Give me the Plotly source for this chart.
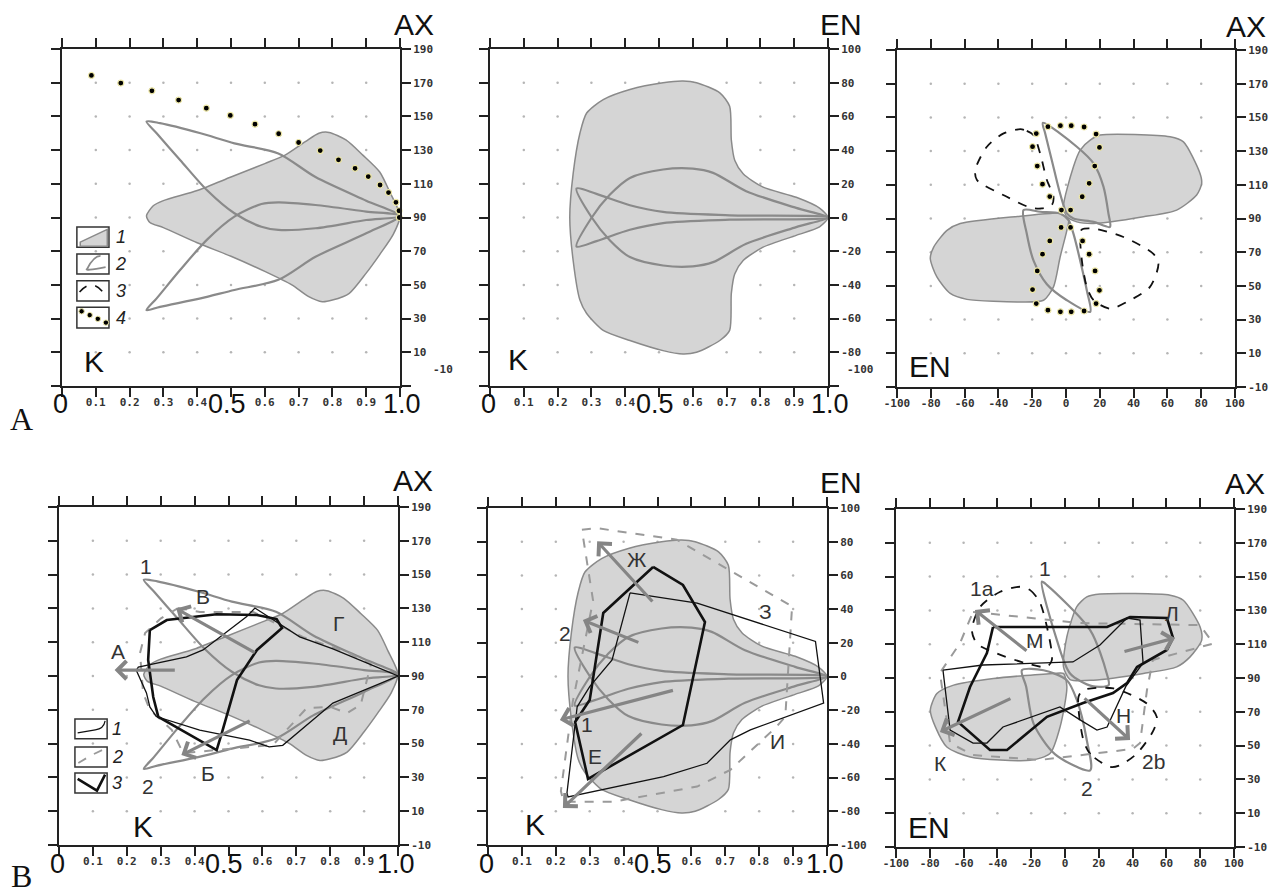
import numpy as np
import plotly.graph_objects as go

# ------------------------------------------------------------------ DATA
# tick values / labels
K_TICKS = [0.0, 0.1, 0.2, 0.3, 0.4, 0.5, 0.6, 0.7, 0.8, 0.9, 1.0]
K_TICKTEXT = ["", "0.1", "0.2", "0.3", "0.4", "", "0.6", "0.7", "0.8", "0.9", ""]
AX_TICKS = [-10, 10, 30, 50, 70, 90, 110, 130, 150, 170, 190]
EN_TICKS = [-100, -80, -60, -40, -20, 0, 20, 40, 60, 80, 100]

# ---- panel A1 / B1 : K vs AX
fill1_K = [0.25, 0.27, 0.30, 0.40, 0.50, 0.60, 0.66, 0.72, 0.76, 0.79, 0.84, 0.89, 0.94, 0.97, 1.00,
           0.98, 0.94, 0.90, 0.85, 0.80, 0.77, 0.73, 0.68, 0.60, 0.50, 0.40, 0.30, 0.26, 0.25]
fill1_AX = [91, 97, 100, 106, 114, 122, 127, 135, 140, 140.5, 136, 127, 117, 105, 91,
            80, 68, 57, 45, 41, 40, 43, 50, 58, 67, 75, 84, 87, 91]
loopU_K = [0.25, 0.29, 0.41, 0.51, 0.64, 0.75, 0.90, 1.00, 0.90, 0.75, 0.64, 0.59, 0.51, 0.43, 0.35, 0.28, 0.25]
loopU_AX = [147, 146, 140, 134, 128, 114, 100, 91, 88.5, 83.6, 82.6, 84.5, 92.5, 106, 124, 140, 147]
loopL_K = [0.25, 0.29, 0.41, 0.51, 0.64, 0.75, 0.90, 1.00, 0.90, 0.75, 0.64, 0.59, 0.51, 0.43, 0.35, 0.28, 0.25]
loopL_AX = [35, 37, 42, 47, 53, 66.7, 80.6, 91, 93.5, 97.4, 99, 98, 90.5, 77, 59, 42, 35]
dots1_K = [0.087, 0.174, 0.266, 0.345, 0.427, 0.498, 0.571, 0.641, 0.700, 0.764, 0.818, 0.867,
           0.906, 0.941, 0.966, 0.988, 0.997, 0.998]
dots1_AX = [174.3, 169.8, 165.2, 159.7, 154.9, 150.6, 145.4, 139.7, 134.5, 129.7, 124.2, 119.2,
            114.3, 109.3, 104.8, 99, 94, 90]

# ---- panel A2 / B2 : K vs EN
fill2_K = [0.236, 0.246, 0.266, 0.286, 0.335, 0.414, 0.512, 0.571, 0.611, 0.68, 0.709, 0.714, 0.724, 0.749,
           0.808, 0.906, 0.975, 1.0, 0.975, 0.906, 0.808, 0.749, 0.724, 0.714, 0.709, 0.68, 0.611, 0.571,
           0.512, 0.414, 0.335, 0.286, 0.266, 0.246, 0.236]
fill2_EN = [0, 26, 50, 62, 70, 76, 80, 81, 80, 74, 66, 46, 34, 26, 18, 12, 5.6, 0, -5.6, -10.6, -17.6,
            -25.5, -33.5, -45, -67, -73, -80, -81, -79, -73, -67, -57, -49, -25.5, 0]
loop2a_K = [0.256, 0.315, 0.414, 0.512, 0.709, 1.0, 0.906, 0.758, 0.66, 0.6, 0.512, 0.414, 0.355, 0.3, 0.256]
loop2a_EN = [17.2, 14, 7.3, 3.3, 1.3, 0, -5.7, -15.6, -26.5, -29, -28.5, -23.5, -13.6, 0.3, 17.2]
loop2b_K = [0.256, 0.315, 0.414, 0.512, 0.709, 1.0, 0.906, 0.758, 0.66, 0.6, 0.512, 0.414, 0.355, 0.3, 0.256]
loop2b_EN = [-17.2, -14, -7.3, -3.3, -1.3, 0, 5.7, 15.6, 26.5, 29, 28.5, 23.5, 13.6, -0.3, -17.2]

# ---- panel A3 : EN vs AX
fill3R_EN = [14.3, 20.2, 61.6, 69.5, 79.3, 80.3, 77.3, 65.5, 45.8, 16.3, 6.4, 0.5, -1.5, 4.4, 8.4, 14.3]
fill3R_AX = [136.5, 139.5, 138.5, 135.5, 116.7, 110.8, 103.9, 95, 91, 87, 88, 91, 97, 120.7, 130.6, 136.5]
fill3L_EN = [-9.4, -27, -62.6, -70.4, -78.3, -80.3, -76.4, -68.5, -58.6, -27, -13.3, -7.4, -3.5, 0.5, 1.5, -3.5, -9.4]
fill3L_AX = [93, 91.4, 87, 83, 73, 66.2, 55.3, 45.5, 42, 40.5, 41.5, 49.4, 67, 83, 89, 93, 93]
loop3U_EN = [-13.7, 6.4, 16.3, 22.2, 25.1, 26, 16.3, 4.4, 0.5, -3.5, -8.4, -12.3, -13.7]
loop3U_AX = [146.8, 132.6, 122.7, 108.8, 93, 85, 88, 90, 93, 104.8, 124.6, 140.5, 146.8]
loop3L_EN = [-25.1, -23.2, -19.2, -11.3, 0.5, 14.3, 12.3, 8.4, 4.4, 1.5, -3.5, -15.3, -25.1]
loop3L_AX = [95, 81, 65, 51, 41.5, 34.6, 47.4, 65, 81, 89, 93, 94, 95]
dash3U_EN = [-27, -23.2, -19.2, -15.3, -11.3, -7.4, -8.4, -14.3, -21.2, -35, -52.7, -53.7, -46.8, -36.9, -27]
dash3U_AX = [143, 142, 139.5, 128.6, 112.8, 102.9, 98, 96, 96.5, 102.9, 112.8, 118.7, 132.6, 140.5, 143]
dash3L_EN = [26.1, 16.3, 12.3, 9.4, 8.4, 9.4, 16.3, 34, 51.7, 54.7, 49.7, 36, 26.1]
dash3L_AX = [36.5, 41.5, 49.4, 65, 81, 83.5, 84, 79, 69, 63.3, 49.4, 40.5, 36.5]
dots3_EN = [-10.7, -3.3, 3.1, 10.7, 17.8, 19.8, 17.0, 13.7, 9.6, 2.7, -2.7, -9.6, -13.9, -17.0, -19.8, -17.6,
            -2.9, 2.7, 9.8, 13.7, 17.2, 19.8, 17.8, 10.7, 3.1, -3.3, -10.7, -17.6, -19.8, -17.0, -13.9, -9.6]
dots3_AX = [144.5, 145.1, 145.1, 144.3, 140.1, 132.2, 121.1, 110.9, 102.9, 95, 95, 103, 110.4, 121.1, 132.6, 140.4,
            84.7, 84.7, 76.7, 68.8, 58.9, 47.4, 39.5, 35.1, 34.6, 34.6, 35.6, 39.5, 47.8, 58.9, 68.8, 76.7]

# ---- panel B1 extra series
b1_thin_K = [1.0, 0.808, 0.71, 0.68, 0.578, 0.553, 0.475, 0.425, 0.376, 0.234, 0.228, 0.258, 0.268, 0.287,
             0.415, 0.562, 0.62, 0.66, 0.808, 1.0]
b1_thin_AX = [90, 106, 113.2, 117, 130.2, 125, 113.1, 105.4, 101.3, 95.3, 93.4, 80, 71.7, 66,
              58, 52, 48.1, 49, 74, 90]
b1_dash_K = [0.351, 0.416, 0.573, 0.64, 0.72, 0.85, 0.92, 0.89, 0.85, 0.80, 0.731, 0.631, 0.5, 0.366,
             0.333, 0.268, 0.248, 0.239, 0.254, 0.30, 0.351]
b1_dash_AX = [130.2, 127.9, 127.9, 121, 113, 104, 97, 73, 68, 71.7, 71.1, 49.2, 47, 44.4,
              58, 70, 80, 103.6, 115.4, 124, 130.2]
b1_thick_K = [0.268, 0.318, 0.465, 0.584, 0.642, 0.658, 0.584, 0.525, 0.48, 0.465, 0.293, 0.278, 0.263, 0.268]
b1_thick_AX = [117.2, 123.1, 126.5, 126.1, 123.7, 118.4, 105.4, 87.6, 56, 46.2, 65.8, 77.6, 99.5, 117.2]
b1_arrows = [(0.346, 93.5, 0.164, 93.5), (0.582, 103.3, 0.346, 129.9), (0.567, 63.9, 0.361, 43.2)]
b1_labels = [("1", 0.258, 154.5), ("2", 0.263, 24.5), ("А", 0.174, 104.3), ("В", 0.425, 136.8),
             ("Б", 0.44, 32.4), ("Г", 0.823, 121), ("Д", 0.828, 56)]

# ---- panel B2 extra series
b2_thin_K = [0.419, 0.617, 0.966, 0.99, 0.774, 0.715, 0.646, 0.518, 0.236, 0.233, 0.263, 0.30, 0.366, 0.419]
b2_thin_EN = [49.6, 43.6, 20.8, -15.8, -31.7, -37.6, -51.5, -59.4, -71.5, -69, -18, -6, 9.8, 49.6]
b2_dash_K = [0.277, 0.322, 0.557, 0.897, 0.877, 0.85, 0.715, 0.617, 0.371, 0.223, 0.215, 0.25, 0.31, 0.277]
b2_dash_EN = [87.1, 88, 81.2, 41.6, -23.8, -30, -55.4, -65.3, -74.3, -74.3, -68, -15, 45, 87.1]
b2_thick_K = [0.487, 0.575, 0.64, 0.575, 0.295, 0.257, 0.30, 0.34, 0.487]
b2_thick_EN = [65, 54.3, 32.3, -28.8, -60.8, -27, -14, 37.7, 65]
b2_arrows = [(0.489, 43.6, 0.322, 80.2), (0.448, 19.9, 0.28, 33.5), (0.55, -8, 0.212, -25.8),
             (0.457, -33, 0.221, -78)]
b2_labels = [("Ж", 0.44, 69.3), ("2", 0.228, 25.7), ("1", 0.292, -28.7), ("Е", 0.317, -47.5),
             ("З", 0.818, 38.6), ("И", 0.853, -38.6)]

# ---- panel B3 : EN vs AX
fillB3R_EN = [12.9, 20.8, 62.2, 70, 79.9, 80.9, 74, 66.1, 46.4, 16.8, 3, -0.9, 1.1, 7, 12.9]
fillB3R_AX = [138, 139.7, 139, 136, 120.3, 112.4, 102.5, 96.6, 92.7, 88.7, 89.1, 96.6, 114.4, 132.2, 138]
fillB3L_EN = [-6.8, -42.3, -65.9, -75.8, -79.7, -76.7, -69.9, -56.1, -20.6, -8.9, -2.9, 1.1, -0.9, -6.8]
fillB3L_AX = [92.7, 89.7, 85.8, 80.8, 71, 61.1, 49.2, 43.3, 41.3, 45.3, 61.1, 84.8, 92.7, 92.7]
b3_loop1_EN = [-13.7, -10.7, 14.9, 24.7, 25.8, 16, 3, -4.8, -13.7]
b3_loop1_AX = [147, 145, 118.3, 92.7, 85.8, 85.2, 92.7, 112.4, 147]
b3_loop2_EN = [-25.5, -23, -18.6, -6, 14.9, 12.9, 7, 1.1, -12.7, -25.5]
b3_loop2_AX = [94.6, 85, 63, 45, 35.4, 53.2, 77, 88.7, 94.6, 94.6]
b3_dash1a_EN = [-26.5, -20.6, -15, -10.7, -7.8, -10.7, -22.6, -40.3, -52.1, -55.1, -50.1, -38.3, -26.5]
b3_dash1a_AX = [144, 142, 135, 120.3, 100.6, 96.6, 98.6, 104.5, 110.4, 118.3, 132.2, 141, 144]
b3_dash2b_EN = [26.7, 15, 10.9, 8, 10.9, 28.7, 48.4, 54.3, 52.4, 42.5, 32.6, 26.7]
b3_dash2b_AX = [37.4, 45, 53.2, 78.9, 82.8, 83.8, 74.9, 67, 59.1, 45.3, 38.4, 37.4]
b3_thin_EN = [-72.2, -48.5, 4.7, 20.7, 36.7, 44.4, 46.2, 36, 24.9, 18.9, 8.9, -3, -36.7, -46.2, -54.4, -68, -72.2]
b3_thin_AX = [94.7, 97.7, 99.5, 109.5, 125.5, 124.3, 98.9, 85, 61, 59.2, 65.2, 72.9, 61, 51.5, 51.5, 59.2, 94.7]
b3_thick_EN = [-42.6, 24.9, 38.5, 60.3, 63.9, 60.3, 42.6, 36.7, 28.4, 10.7, -10.7, -34.3, -44.4, -63.3, -56.2,
               -46.2, -42.6]
b3_thick_AX = [120.2, 120.2, 126.1, 125.5, 113.7, 106.6, 96.5, 87, 81.1, 75.2, 67, 47.4, 47.4, 64, 84.7,
               104.8, 120.2]
b3_dash_EN = [-54.4, 8.9, 79.9, 87.8, 52, 48.5, 44.4, 40, -14.8, -54.4, -68, -74, -62.1, -54.4]
b3_dash_AX = [129.1, 122.5, 121.3, 110.4, 100.7, 82.9, 51.5, 48, 41.5, 44.4, 51.5, 93, 110.7, 129.1]
b3_arrows = [(-21.9, 105.4, -53.3, 130.2), (-31.4, 78.2, -74, 58.1), (34.3, 105.4, 65.1, 113.7),
             (10.7, 78.8, 38.5, 53.3)]
b3_labels = [("1", -11.7, 154.9), ("1a", -49.2, 143), ("2", 12.9, 24.5), ("2b", 52.3, 40.3),
             ("Л", 63.2, 128.2), ("М", -17.6, 112.4), ("К", -73.8, 39.4), ("Н", 34.6, 68)]

# ------------------------------------------------------------------ STYLE
W, H = 1280, 893
GRAY_FILL = "#d5d5d5"
GRAY_LINE = "#8a8a8a"
AXC = "#222222"
TICKFONT = dict(family="DejaVu Sans Mono", size=11, color="#333333", weight="bold")

# panel: (index, x px range, y px range, x kind, y kind, hide lowest y label)
PANELS = [
    (1, (62, 400), (49, 386), "K", "AX", True),
    (2, (490, 828), (49, 386), "K", "EN", True),
    (3, (897, 1235), (50, 387), "EN", "AX", False),
    (4, (59, 398), (507, 845), "K", "AX", False),
    (5, (488, 827), (508, 845), "K", "EN", False),
    (6, (896, 1234), (509, 847), "EN", "AX", False),
]

fig = go.Figure()
layout = dict(width=W, height=H, margin=dict(l=0, r=0, t=0, b=0, autoexpand=False), paper_bgcolor="white",
              plot_bgcolor="white", showlegend=False)


def tick_cfg(kind, hide_low=False):
    if kind == "K":
        return dict(range=[0, 1], tickvals=K_TICKS, ticktext=K_TICKTEXT)
    if kind == "AX":
        txt = [str(v) for v in AX_TICKS]
    else:
        txt = [str(v) for v in EN_TICKS]
    if hide_low:
        txt[0] = ""
    if kind == "AX":
        return dict(range=[-10, 190], tickvals=AX_TICKS, ticktext=txt)
    return dict(range=[-100, 100], tickvals=EN_TICKS, ticktext=txt)


def inner(kind):
    t = {"K": K_TICKS, "AX": AX_TICKS, "EN": EN_TICKS}[kind]
    return t[1:-1]


for i, (px0, px1), (py0, py1), xk, yk, hide in PANELS:
    sx = "" if i == 1 else str(i)
    xcfg = tick_cfg(xk)
    ycfg = tick_cfg(yk, hide)
    layout["xaxis" + sx] = dict(domain=[px0 / W, px1 / W], anchor="y" + sx, showgrid=False, zeroline=False,
                                showline=True, linecolor=AXC, linewidth=2, mirror="ticks", ticks="outside",
                                ticklen=9, tickwidth=2, tickcolor=AXC, tickfont=TICKFONT, tickangle=0,
                                ticklabelstandoff=-4, automargin=False, fixedrange=True, **xcfg)
    layout["yaxis" + sx] = dict(domain=[1 - py1 / H, 1 - py0 / H], anchor="x" + sx, side="right", showgrid=False,
                                zeroline=False, showline=True, linecolor=AXC, linewidth=2, mirror="ticks",
                                ticks="outside", ticklen=9, tickwidth=2, tickcolor=AXC, tickfont=TICKFONT,
                                automargin=False, fixedrange=True, **ycfg)
    gx, gy = np.meshgrid(inner(xk), inner(yk))
    fig.add_trace(go.Scatter(x=gx.ravel(), y=gy.ravel(), mode="markers", xaxis="x" + sx, yaxis="y" + sx,
                             marker=dict(size=2.5, color="#b5b5b5"), hoverinfo="skip"))


def ax_of(i):
    s = "" if i == 1 else str(i)
    return "x" + s, "y" + s


def gfill(i, x, y):
    xa, ya = ax_of(i)
    fig.add_trace(go.Scatter(x=x, y=y, xaxis=xa, yaxis=ya, mode="lines", fill="toself", fillcolor=GRAY_FILL,
                             line=dict(color=GRAY_LINE, width=1.5, shape="spline", smoothing=0.7)))


def gloop(i, x, y):
    xa, ya = ax_of(i)
    fig.add_trace(go.Scatter(x=x, y=y, xaxis=xa, yaxis=ya, mode="lines",
                             line=dict(color=GRAY_LINE, width=2.2, shape="spline", smoothing=0.8)))


def line(i, x, y, color, width, dash="solid", spline=False):
    xa, ya = ax_of(i)
    ln = dict(color=color, width=width, dash=dash)
    if spline:
        ln.update(shape="spline", smoothing=0.8)
    fig.add_trace(go.Scatter(x=x, y=y, xaxis=xa, yaxis=ya, mode="lines", line=ln))


def dots(i, x, y):
    xa, ya = ax_of(i)
    fig.add_trace(go.Scatter(x=x, y=y, xaxis=xa, yaxis=ya, mode="markers", cliponaxis=False,
                             marker=dict(size=6, color="#000000", line=dict(color="#efe9a8", width=1.2))))


# A1
gfill(1, fill1_K, fill1_AX)
gloop(1, loopU_K, loopU_AX)
gloop(1, loopL_K, loopL_AX)
dots(1, dots1_K, dots1_AX)
# A2
gfill(2, fill2_K, fill2_EN)
gloop(2, loop2a_K, loop2a_EN)
gloop(2, loop2b_K, loop2b_EN)
# A3
gfill(3, fill3R_EN, fill3R_AX)
gfill(3, fill3L_EN, fill3L_AX)
gloop(3, loop3U_EN, loop3U_AX)
gloop(3, loop3L_EN, loop3L_AX)
line(3, dash3U_EN, dash3U_AX, "#111111", 1.8, "dash", spline=True)
line(3, dash3L_EN, dash3L_AX, "#111111", 1.8, "dash", spline=True)
dots(3, dots3_EN, dots3_AX)
# B1
gfill(4, fill1_K, fill1_AX)
gloop(4, loopU_K, loopU_AX)
gloop(4, loopL_K, loopL_AX)
line(4, b1_dash_K, b1_dash_AX, "#9a9a9a", 2, "dash")
line(4, b1_thin_K, b1_thin_AX, "#111111", 1.3)
line(4, b1_thick_K, b1_thick_AX, "#111111", 2.6)
# B2
gfill(5, fill2_K, fill2_EN)
gloop(5, loop2a_K, loop2a_EN)
gloop(5, loop2b_K, loop2b_EN)
line(5, b2_dash_K, b2_dash_EN, "#9a9a9a", 2, "dash")
line(5, b2_thin_K, b2_thin_EN, "#111111", 1.3)
line(5, b2_thick_K, b2_thick_EN, "#111111", 2.6)
# B3
gfill(6, fillB3R_EN, fillB3R_AX)
gfill(6, fillB3L_EN, fillB3L_AX)
gloop(6, b3_loop1_EN, b3_loop1_AX)
gloop(6, b3_loop2_EN, b3_loop2_AX)
line(6, b3_dash1a_EN, b3_dash1a_AX, "#111111", 1.8, "dash", spline=True)
line(6, b3_dash2b_EN, b3_dash2b_AX, "#111111", 1.8, "dash", spline=True)
line(6, b3_dash_EN, b3_dash_AX, "#9a9a9a", 2, "dash")
line(6, b3_thin_EN, b3_thin_AX, "#111111", 1.3)
line(6, b3_thick_EN, b3_thick_AX, "#111111", 2.6)

annotations = []
shapes = []


def text_ann(**kw):
    d = dict(showarrow=False, xanchor="center", yanchor="middle")
    d.update(kw)
    annotations.append(d)


# arrows and in-plot letters
for i, arrows, labels in [(4, b1_arrows, b1_labels), (5, b2_arrows, b2_labels), (6, b3_arrows, b3_labels)]:
    xa, ya = ax_of(i)
    for (tx, ty, hx, hy) in arrows:
        annotations.append(dict(x=hx, y=hy, ax=tx, ay=ty, xref=xa, yref=ya, axref=xa, ayref=ya, text="",
                                showarrow=True, arrowhead=4, arrowsize=1.1, arrowwidth=3.2, arrowcolor="#858585"))
    for (t, x, y) in labels:
        text_ann(x=x, y=y, xref=xa, yref=ya, text=t,
                 font=dict(family="Liberation Sans", size=21, color="#333333"))

# big axis-name labels inside panels
inner_names = [(1, "K", 0.094, 4.3), (2, "K", 0.084, -84), (3, "EN", -80.3, 1.9),
               (4, "K", 0.248, 0.9), (5, "K", 0.14, -88), (6, "EN", -80.7, 1.8)]
for i, t, x, y in inner_names:
    xa, ya = ax_of(i)
    text_ann(x=x, y=y, xref=xa, yref=ya, text=t,
             font=dict(family="Liberation Sans", size=30, color="#111111"))

# lowest right-axis labels of the top row sit a little above the bottom edge
for t, cx, cy in [("-10", 443, 369), ("-100", 860, 369)]:
    text_ann(x=cx / W, y=1 - cy / H, xref="paper", yref="paper", text=t, font=TICKFONT)

# corner axis names (paper coordinates from pixel positions)
corner_names = [("AX", 414, 24), ("EN", 841, 24), ("AX", 1246, 26),
                ("AX", 413, 481), ("EN", 841, 482), ("AX", 1245, 483)]
for t, cx, cy in corner_names:
    text_ann(x=cx / W, y=1 - cy / H, xref="paper", yref="paper", text=t,
             font=dict(family="Liberation Sans", size=30, color="#111111"))

# big 0 / 0.5 / 1.0 labels under K axes (paper coordinates)
for i, ypx, f1 in [(1, 404, 1.005), (2, 404, 1.005), (4, 864, 0.995), (5, 864, 0.995)]:
    (px0, px1) = PANELS[i - 1][1]
    for t, fx in [("0", -0.005), ("0.5", 0.488), ("1.0", f1)]:
        text_ann(x=(px0 + fx * (px1 - px0)) / W, y=1 - ypx / H, xref="paper", yref="paper", text=t,
                 font=dict(family="Liberation Sans", size=27, color="#111111"))

# panel letters
for t, cx, cy in [("A", 21, 419), ("B", 21, 876)]:
    text_ann(x=cx / W, y=1 - cy / H, xref="paper", yref="paper", text=t,
             font=dict(family="Liberation Serif", size=32, color="#111111"))


# legend keys (domain coordinates)
def dref(i):
    s = "" if i == 1 else str(i)
    return "x" + s + " domain", "y" + s + " domain"


xd, yd = dref(1)
boxesA = [(0.412, 0.472), (0.332, 0.392), (0.252, 0.312), (0.172, 0.234)]
bx0, bx1 = 0.044, 0.139
for k, (y0, y1) in enumerate(boxesA):
    shapes.append(dict(type="rect", xref=xd, yref=yd, x0=bx0, x1=bx1, y0=y0, y1=y1,
                       line=dict(color="#333333", width=1.5), fillcolor="white", layer="above"))
    h = y1 - y0
    if k == 0:
        shapes.append(dict(type="path", xref=xd, yref=yd, layer="above",
                           path=f"M{bx0+0.01},{y0+0.25*h} L{bx1-0.005},{y1-0.12*h} L{bx1-0.005},{y0+0.05*h} L{bx0+0.01},{y0+0.05*h} Z",
                           fillcolor=GRAY_FILL, line=dict(color=GRAY_LINE, width=1.5)))
    elif k == 1:
        shapes.append(dict(type="path", xref=xd, yref=yd, layer="above",
                           path=f"M{bx1-0.01},{y0+0.35*h} Q{bx0+0.02},{y0+0.15*h} {bx0+0.03},{y0+0.25*h} Q{bx0+0.05},{y1-0.1*h} {bx0+0.07},{y1-0.1*h}",
                           line=dict(color=GRAY_LINE, width=1.8)))
    elif k == 2:
        shapes.append(dict(type="path", xref=xd, yref=yd, layer="above",
                           path=f"M{bx0+0.008},{y0+0.45*h} Q{bx0+0.05},{y1+0.25*h} {bx1-0.008},{y0+0.2*h}",
                           line=dict(color="#111111", width=1.6, dash="dash")))
    else:
        for j in range(4):
            cx = bx0 + 0.014 + j * 0.024
            cy = y1 - 0.2 * h - j * 0.18 * h
            shapes.append(dict(type="circle", xref=xd, yref=yd, layer="above", x0=cx - 0.008, x1=cx + 0.008,
                               y0=cy - 0.008, y1=cy + 0.008, fillcolor="#000000",
                               line=dict(color="#efe9a8", width=1)))
    text_ann(x=bx1 + 0.035, y=(y0 + y1) / 2, xref=xd, yref=yd, text=f"<i>{k+1}</i>",
             font=dict(family="Liberation Sans", size=18, color="#222222"))

xd, yd = dref(4)
boxesB = [(0.314, 0.373), (0.231, 0.29), (0.154, 0.213)]
bx0, bx1 = 0.047, 0.142
for k, (y0, y1) in enumerate(boxesB):
    shapes.append(dict(type="rect", xref=xd, yref=yd, x0=bx0, x1=bx1, y0=y0, y1=y1,
                       line=dict(color="#333333", width=1.5), fillcolor="white", layer="above"))
    h = y1 - y0
    if k == 0:
        shapes.append(dict(type="path", xref=xd, yref=yd, layer="above",
                           path=f"M{bx0+0.008},{y0+0.3*h} L{bx0+0.06},{y0+0.45*h} Q{bx1-0.01},{y0+0.5*h} {bx1-0.006},{y1-0.1*h}",
                           line=dict(color="#111111", width=1.2)))
    elif k == 1:
        shapes.append(dict(type="path", xref=xd, yref=yd, layer="above",
                           path=f"M{bx0+0.01},{y0+0.2*h} L{bx0+0.05},{y0+0.6*h} L{bx1-0.008},{y1-0.1*h}",
                           line=dict(color="#9a9a9a", width=1.8, dash="dash")))
    else:
        shapes.append(dict(type="path", xref=xd, yref=yd, layer="above",
                           path=f"M{bx0+0.008},{y1-0.3*h} L{bx0+0.065},{y0+0.12*h} L{bx1-0.006},{y1-0.08*h}",
                           line=dict(color="#111111", width=2.6)))
    text_ann(x=bx1 + 0.03, y=(y0 + y1) / 2, xref=xd, yref=yd, text=f"<i>{k+1}</i>",
             font=dict(family="Liberation Sans", size=18, color="#222222"))

layout["annotations"] = annotations
layout["shapes"] = shapes
fig.update_layout(**layout)
fig.write_html("out.html")
